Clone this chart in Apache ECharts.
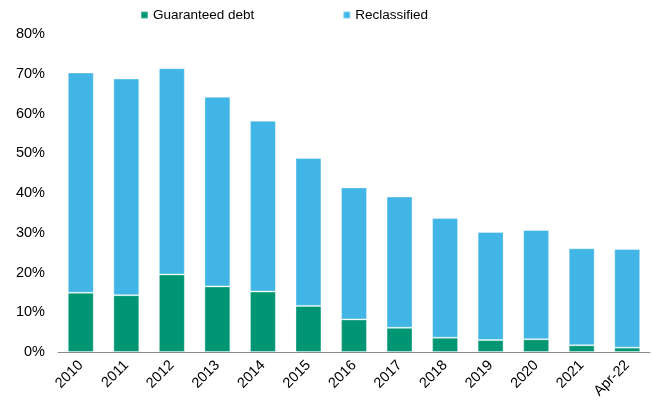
<!DOCTYPE html>
<html>
<head>
<meta charset="utf-8">
<script src="https://cdn.jsdelivr.net/npm/echarts@6/dist/echarts.min.js"></script>
<style>
  html, body { margin: 0; padding: 0; background: #fff; }
  #chart { width: 653px; height: 407px; }
</style>
</head>
<body>
<div id="chart"></div>
<script>
// Years shown along the x axis
const categories = ['2010', '2011', '2012', '2013', '2014', '2015', '2016', '2017', '2018', '2019', '2020', '2021', 'Apr-22'];
// Share of debt, in percent
const guaranteedDebt = [14.9, 14.3, 19.5, 16.5, 15.2, 11.6, 8.2, 6.1, 3.6, 3.0, 3.2, 1.7, 1.1];
const reclassified = [55.4, 54.5, 51.9, 47.7, 43.0, 37.2, 33.2, 33.0, 30.1, 27.2, 27.5, 24.4, 24.8];
const yTicks = [0, 10, 20, 30, 40, 50, 60, 70, 80];

const chart = echarts.init(document.getElementById('chart'));
const font = 'Liberation Sans, Arial, sans-serif';

chart.setOption({
  animation: false,
  textStyle: { fontFamily: font },
  legend: {
    left: 140,
    top: 8,
    padding: 0,
    itemWidth: 7,
    itemHeight: 7,
    itemGap: 88,
    icon: 'rect',
    textStyle: { fontSize: 13.5, color: '#000', fontFamily: font },
    data: ['Guaranteed debt', 'Reclassified']
  },
  grid: { left: 58, right: 3, top: 34, bottom: 55 },
  xAxis: {
    type: 'category',
    data: categories,
    axisLine: { lineStyle: { color: '#8c8c8c', width: 1 } },
    axisTick: { show: false },
    axisLabel: { rotate: 45, fontSize: 14.5, color: '#000', margin: 11, fontFamily: font }
  },
  yAxis: {
    type: 'value',
    min: yTicks[0],
    max: yTicks[yTicks.length - 1],
    interval: 10,
    splitLine: { show: false },
    axisLine: { show: false },
    axisTick: { show: false },
    axisLabel: { fontSize: 14.5, color: '#000', margin: 13, fontFamily: font, formatter: v => v + '%' }
  },
  series: [
    {
      name: 'Guaranteed debt',
      type: 'bar',
      stack: 'total',
      barCategoryGap: '43%',
      data: guaranteedDebt,
      itemStyle: { color: '#009673', borderColor: 'rgba(255,255,255,0.35)', borderWidth: 1 }
    },
    {
      name: 'Reclassified',
      type: 'bar',
      stack: 'total',
      barCategoryGap: '43%',
      data: reclassified,
      itemStyle: { color: '#41b6e6', borderColor: 'rgba(255,255,255,0.35)', borderWidth: 1 }
    }
  ]
});
</script>
</body>
</html>
